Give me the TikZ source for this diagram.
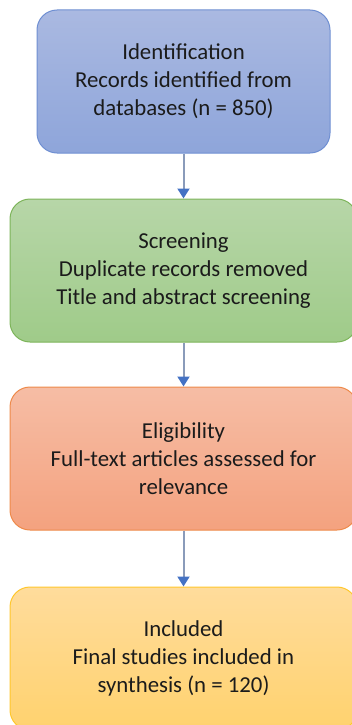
\documentclass[tikz,border=0pt]{standalone}
\usepackage{fontspec}
\setmainfont{Carlito}
\usetikzlibrary{positioning}
\usetikzlibrary{arrows.meta}

\definecolor{identtop}{HTML}{AAB9E1}
\definecolor{identbot}{HTML}{8EA5DA}
\definecolor{identline}{HTML}{6F8FD2}
\definecolor{screentop}{HTML}{B7D6A8}
\definecolor{screenbot}{HTML}{9FCB89}
\definecolor{screenline}{HTML}{7DB45A}
\definecolor{eligtop}{HTML}{F6BDA5}
\definecolor{eligbot}{HTML}{F4A27F}
\definecolor{eligline}{HTML}{EE8A4A}
\definecolor{incltop}{HTML}{FFDC9C}
\definecolor{inclbot}{HTML}{FFD26E}
\definecolor{inclline}{HTML}{FFC72C}
\definecolor{linkgray}{HTML}{8A9BBA}
\definecolor{tipblue}{HTML}{4472C4}
\definecolor{textgray}{HTML}{1B1B1B}

\begin{document}
\begin{tikzpicture}
  [
    x=1pt, y=-1pt,
    stage/.style = {rectangle, rounded corners=20pt, line width=1pt,
                    minimum height=143pt, inner sep=0pt, align=center,
                    text=textgray, font=\fontsize{22.8}{28}\selectfont},
    link/.style  = {draw=linkgray, line width=2pt,
                    -{Triangle[width=12pt, length=10pt, color=tipblue, fill=tipblue]}},
  ]

  \useasboundingbox (0,0) rectangle (352,725);

  % the four stages
  \node (ident) at (183.5,81.5) [stage, minimum width=293pt, draw=identline,
        top color=identtop, bottom color=identbot]
        {Identification\\Records identified from\\databases (n = 850)};

  \node (screen) at (183.5,270.5) [stage, minimum width=347pt, draw=screenline,
        top color=screentop, bottom color=screenbot]
        {Screening\\Duplicate records removed\\Title and abstract screening};

  \node (elig) at (183.5,458.5) [stage, minimum width=347pt, draw=eligline,
        top color=eligtop, bottom color=eligbot]
        {Eligibility\\Full-text articles assessed for\\relevance};

  \node (incl) at (183.5,658.5) [stage, minimum width=347pt, draw=inclline,
        top color=incltop, bottom color=inclbot]
        {Included\\Final studies included in\\synthesis (n = 120)};

  % connectors
  \draw[link] (ident) -- (screen);
  \draw[link] (screen) -- (elig);
  \draw[link] (elig) -- (incl);

\end{tikzpicture}
\end{document}
